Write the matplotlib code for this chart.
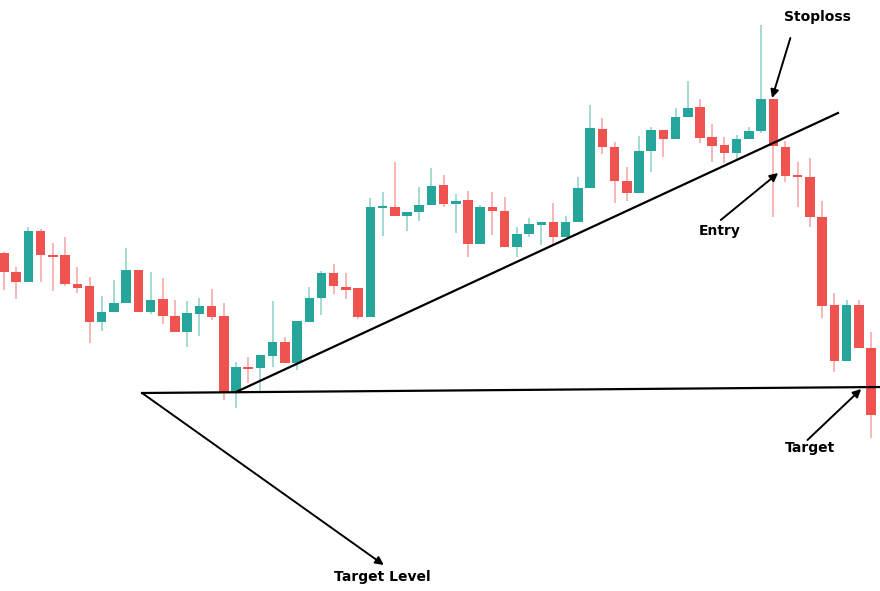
import matplotlib.pyplot as plt
import numpy as np

# candle prices (oldest first)
opens = [347, 328, 318, 369, 345, 345, 316, 314, 278, 288, 297, 330, 288, 301, 284, 268, 286, 294,
         284, 208, 233, 232, 244, 258, 237, 278, 302, 327, 313, 312, 283, 392, 393, 384, 388, 395,
         415, 396, 400, 356, 393, 389, 353, 366, 375, 378, 363, 378, 412, 471, 453, 419, 407, 449,
         470, 461, 483, 493, 463, 455, 447, 461, 469, 501, 453, 424, 423, 383, 295, 239, 295, 252]
highs = [348, 333, 373, 371, 357, 363, 333, 323, 304, 320, 352, 330, 328, 322, 300, 299, 302, 311,
         297, 238, 243, 245, 299, 263, 279, 313, 329, 336, 327, 312, 402, 408, 438, 388, 413, 432,
         425, 406, 409, 395, 408, 403, 373, 382, 378, 397, 384, 423, 495, 482, 458, 433, 464, 473,
         470, 492, 519, 501, 476, 463, 465, 473, 575, 501, 459, 438, 442, 399, 307, 300, 300, 268]
lows = [310, 301, 318, 318, 309, 314, 307, 257, 269, 288, 297, 288, 286, 276, 268, 253, 264, 280,
        200, 192, 217, 208, 233, 237, 230, 278, 285, 306, 301, 281, 283, 364, 384, 369, 379, 395,
        393, 367, 343, 356, 365, 353, 343, 363, 355, 356, 363, 378, 412, 446, 397, 399, 407, 428,
        443, 461, 483, 457, 438, 437, 439, 461, 467, 383, 418, 393, 373, 282, 228, 239, 252, 162]
closes = [328, 318, 369, 345, 343, 316, 312, 278, 288, 297, 330, 288, 300, 284, 268, 287, 294, 283,
          208, 233, 231, 245, 258, 237, 279, 302, 327, 314, 310, 283, 393, 394, 384, 388, 395, 414,
          396, 399, 356, 393, 389, 353, 366, 376, 378, 363, 378, 412, 472, 453, 419, 407, 449, 470,
          461, 483, 492, 462, 454, 447, 461, 469, 501, 454, 424, 423, 383, 294, 239, 295, 252, 185]

# drawn lines: (candle index, price)
trend_line = [(19.0, 208), (68.3, 487)]
target_line = [(11.3, 207), (71.8, 213)]

# annotations: label, text position, arrow start, arrow tip
labels = ["Stoploss", "Entry", "Target", "Target Level"]
label_pos = [(66.6, 583), (58.6, 369), (66.0, 152), (31.0, 23)]
arrow_from = [(64.4, 562), (58.7, 380), (65.8, 160), (11.3, 207)]
arrow_to = [(62.9, 502), (63.4, 427), (70.2, 211), (31.1, 35)]

green = '#26a69a'
red = '#ef5350'

fig = plt.figure(figsize=(8.8, 5.91), dpi=100)
ax = fig.add_axes([0, 0, 1, 1])

x = np.arange(len(opens))
o = np.array(opens)
c = np.array(closes)
up = c >= o
cols = np.where(up, green, red)

ax.vlines(x, lows, highs, colors=cols, linewidth=1.3, alpha=0.45, zorder=1)
bottom = np.minimum(o, c)
height = np.maximum(np.abs(c - o), 2)
ax.bar(x, height, bottom=bottom, width=0.78, color=cols, zorder=2)

ax.plot(*zip(*trend_line), color='black', lw=1.6, zorder=3)
ax.plot(*zip(*target_line), color='black', lw=1.6, zorder=3)

for lab, tp, a0, a1 in zip(labels, label_pos, arrow_from, arrow_to):
    ax.annotate('', xy=a1, xytext=a0,
                arrowprops=dict(arrowstyle='-|>', color='black', lw=1.4,
                                mutation_scale=12, shrinkA=0, shrinkB=0), zorder=4)
    ax.text(tp[0], tp[1], lab, ha='center', va='center', fontsize=10,
            fontweight='bold', color='black')

ax.set_xlim(-0.33, 71.74)
ax.set_ylim(9, 600)
ax.axis('off')

fig.savefig('out.png', dpi=100, facecolor='white')
